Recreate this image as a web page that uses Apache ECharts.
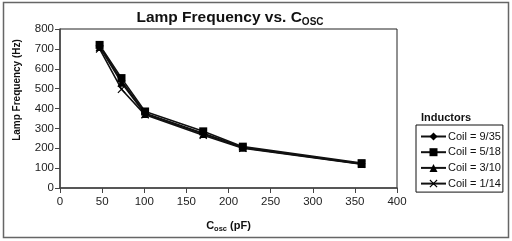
<!DOCTYPE html>
<html>
<head>
<meta charset="utf-8">
<script src="https://cdn.jsdelivr.net/npm/echarts@6/dist/echarts.min.js"></script>
<style>
  html, body { margin: 0; padding: 0; background: #fff; }
  #chart { width: 512px; height: 241px; }
</style>
</head>
<body>
<div id="chart"></div>
<script>
// C_osc in pF
var cosc = [47, 73, 101, 170, 217, 358];
var coilNames = ['Coil = 9/35', 'Coil = 5/18', 'Coil = 3/10', 'Coil = 1/14'];
var coil935 = [715, 540, 376, 276, 205, 122];
var coil518 = [720, 553, 385, 285, 208, 125];
var coil310 = [710, 530, 372, 272, 203, 121];
var coil114 = [700, 497, 368, 265, 200, 120];
var xTicks = [0, 50, 100, 150, 200, 250, 300, 350, 400];
var yTicks = [0, 100, 200, 300, 400, 500, 600, 700, 800];

var xMark = 'path://M0,1L1,0L5,4L9,0L10,1L6,5L10,9L9,10L5,6L1,10L0,9L4,5Z';
var symbols = ['diamond', 'rect', 'triangle', xMark];
var values = [coil935, coil518, coil310, coil114];
var zs = [3, 5, 4, 2];

var myChart = echarts.init(document.getElementById('chart'));

var series = values.map(function (vals, i) {
    return {
        name: coilNames[i],
        type: 'line',
        data: vals.map(function (v, j) { return [cosc[j], v]; }),
        symbol: symbols[i],
        symbolSize: 8,
        showAllSymbol: true,
        z: zs[i],
        lineStyle: { color: '#111', width: 1.6 },
        itemStyle: { color: '#000', borderWidth: 0 }
    };
});

myChart.setOption({
    animation: false,
    textStyle: { fontFamily: 'Liberation Sans, Arial, sans-serif' },
    title: [
        {
            text: '{t|Lamp Frequency vs. C}{s|OSC}',
            left: 225, top: 3, textAlign: 'center',
            textStyle: {
                rich: {
                    t: { fontSize: 15.5, fontWeight: 'bold', color: '#111', fontFamily: 'Liberation Sans' },
                    s: { fontSize: 10, fontWeight: 'bold', color: '#111', fontFamily: 'Liberation Sans', padding: [9, 0, 0, 0] }
                }
            }
        },
        {
            text: 'Inductors',
            left: 416, top: 107,
            textStyle: { fontSize: 11, fontWeight: 'bold', color: '#111', fontFamily: 'Liberation Sans' }
        }
    ],
    legend: {
        orient: 'vertical',
        left: 416, top: 125,
        data: coilNames,
        itemWidth: 25, itemHeight: 10, itemGap: 4.7,
        padding: [6, 2, 3, 4],
        borderColor: '#111', borderWidth: 1,
        textStyle: { fontSize: 11, lineHeight: 10, color: '#111', padding: [0, 0, 0, -3] }
    },
    graphic: [
        {
            type: 'rect',
            shape: { x: 3.5, y: 2.5, width: 505, height: 235 },
            style: { fill: 'none', stroke: '#666', lineWidth: 1.5 },
            silent: true
        },
        {
            type: 'text',
            x: 17, y: 90, rotation: Math.PI / 2,
            style: {
                text: 'Lamp Frequency (Hz)',
                fontSize: 10, fontWeight: 'bold', fill: '#111',
                fontFamily: 'Liberation Sans',
                align: 'center', verticalAlign: 'middle'
            },
            silent: true
        }
    ],
    grid: {
        left: 60, right: 115, top: 29, bottom: 53,
        show: true, borderColor: '#222', borderWidth: 1
    },
    xAxis: {
        type: 'value',
        min: 0, max: 400, interval: 50,
        name: '{t|C}{s|osc}{t| (pF)}',
        nameLocation: 'middle', nameGap: 31,
        nameTextStyle: {
            rich: {
                t: { fontSize: 11, fontWeight: 'bold', color: '#111' },
                s: { fontSize: 7.5, fontWeight: 'bold', color: '#111', padding: [6, 0, 0, 0] }
            }
        },
        axisLine: { lineStyle: { color: '#444', width: 1.5 } },
        axisTick: { length: 5, lineStyle: { color: '#444' } },
        axisLabel: { fontSize: 11.5, color: '#222', margin: 8 },
        splitLine: { show: false }
    },
    yAxis: {
        type: 'value',
        min: 0, max: 800, interval: 100,
        axisLine: { show: true, lineStyle: { color: '#444', width: 1.5 } },
        axisTick: { show: true, length: 5, lineStyle: { color: '#444' } },
        axisLabel: { fontSize: 11.5, color: '#222', margin: 6 },
        splitLine: { show: false }
    },
    series: series
});
</script>
</body>
</html>
